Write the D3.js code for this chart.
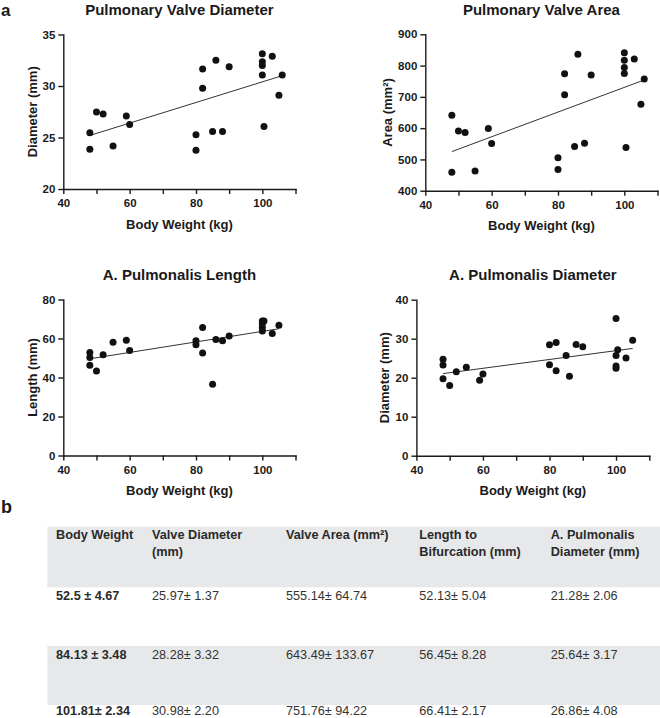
<!DOCTYPE html>
<html>
<head>
<meta charset="utf-8">
<script src="https://cdn.jsdelivr.net/npm/d3@7"></script>
<style>
  html, body { margin: 0; padding: 0; background: #fff; }
  svg { display: block; font-family: "Liberation Sans", Arial, Helvetica, sans-serif; }
</style>
</head>
<body>
<svg id="chart" width="660" height="718"></svg>
<script>
// ---------------- DATA ----------------
const xTicks = [40, 50, 60, 70, 80, 90, 100, 110];
const xTickLabels = [40, 60, 80, 100];
const xAxisTitle = "Body Weight (kg)";

// Panel 1: Pulmonary Valve Diameter
const valveDiamTitle = "Pulmonary Valve Diameter";
const valveDiamYLabel = "Diameter (mm)";
const valveDiamYTicks = [20, 25, 30, 35];
const valveDiamWeight = [48, 48, 50, 52, 55, 59, 60, 80, 80, 82, 82, 85, 86, 88, 90, 100, 100, 100, 100, 100.5, 103, 105, 106];
const valveDiamValues = [25.45, 23.85, 27.47, 27.27, 24.17, 27.08, 26.27, 25.26, 23.77, 31.66, 29.77, 25.58, 32.5, 25.58, 31.88, 33.12, 32.35, 31.98, 31.07, 26.07, 32.88, 29.09, 31.07];
const valveDiamFitX = [48, 106];
const valveDiamFitY = [25.2, 31.0];

// Panel 2: Pulmonary Valve Area
const valveAreaTitle = "Pulmonary Valve Area";
const valveAreaYLabel = "Area (mm²)";
const valveAreaYTicks = [400, 500, 600, 700, 800, 900];
const valveAreaWeight = [48, 48, 50, 52, 55, 59, 60, 80, 80, 82, 82, 85, 86, 88, 90, 100, 100, 100, 100, 100.5, 103, 105, 106];
const valveAreaValues = [641, 459, 591, 586, 463, 599, 551, 505, 468, 774, 707, 541, 836, 552, 770, 841, 817, 794, 775, 538, 821, 676, 757];
const valveAreaFitX = [48, 106];
const valveAreaFitY = [525, 754];

// Panel 3: A. Pulmonalis Length
const apLengthTitle = "A. Pulmonalis Length";
const apLengthYLabel = "Length (mm)";
const apLengthYTicks = [0, 20, 40, 60, 80];
const apLengthWeight = [48, 48, 48, 50, 52, 55, 59, 60, 80, 80, 82, 82, 85, 86, 88, 90, 100, 100, 100, 100, 100.5, 103, 105];
const apLengthValues = [52.8, 50.3, 46.3, 43.3, 51.7, 58.1, 59.1, 53.9, 58.9, 56.8, 65.6, 52.6, 36.5, 59.5, 58.8, 61.3, 69.0, 67.6, 65.7, 63.8, 69.0, 62.6, 66.8];
const apLengthFitX = [48, 105];
const apLengthFitY = [49.6, 65.0];

// Panel 4: A. Pulmonalis Diameter
const apDiamTitle = "A. Pulmonalis Diameter";
const apDiamYLabel = "Diameter (mm)";
const apDiamYTicks = [0, 10, 20, 30, 40];
const apDiamWeight = [48, 48, 48, 50, 52, 55, 59, 60, 80, 80, 82, 82, 85, 86, 88, 90, 100, 100, 100, 100, 100.5, 103, 105];
const apDiamValues = [24.7, 23.25, 19.7, 18.0, 21.55, 22.65, 19.35, 20.95, 28.45, 23.3, 29.0, 21.8, 25.7, 20.35, 28.5, 27.95, 35.2, 25.7, 23.0, 22.4, 27.15, 25.05, 29.6];
const apDiamFitX = [48, 105];
const apDiamFitY = [21.05, 27.5];

// Table (panel b)
const tableHeaders = [["Body Weight"], ["Valve Diameter", "(mm)"], ["Valve Area (mm²)"], ["Length to", "Bifurcation (mm)"], ["A. Pulmonalis", "Diameter (mm)"]];
const bodyWeightGroups = ["52.5 ± 4.67", "84.13 ± 3.48", "101.81± 2.34"];
const valveDiameterStats = ["25.97± 1.37", "28.28± 3.32", "30.98± 2.20"];
const valveAreaStats = ["555.14± 64.74", "643.49± 133.67", "751.76± 94.22"];
const lengthBifStats = ["52.13± 5.04", "56.45± 8.28", "66.41± 2.17"];
const apDiameterStats = ["21.28± 2.06", "25.64± 3.17", "26.86± 4.08"];

// ---------------- LAYOUT ----------------
const svg = d3.select("#chart");
svg.append("rect").attr("width", 660).attr("height", 718).attr("fill", "#fff");

const INK = "#1a1a1a";

const panels = [
  { title: valveDiamTitle, yLabel: valveDiamYLabel, yTicks: valveDiamYTicks, xs: valveDiamWeight, ys: valveDiamValues, fx: valveDiamFitX, fy: valveDiamFitY,
    xr: [63.3, 295.5], yr: [189, 34.5], titleY: 15, yLabelX: 36.5 },
  { title: valveAreaTitle, yLabel: valveAreaYLabel, yTicks: valveAreaYTicks, xs: valveAreaWeight, ys: valveAreaValues, fx: valveAreaFitX, fy: valveAreaFitY,
    xr: [425.3, 657.5], yr: [190.7, 34.3], titleY: 15, yLabelX: 392 },
  { title: apLengthTitle, yLabel: apLengthYLabel, yTicks: apLengthYTicks, xs: apLengthWeight, ys: apLengthValues, fx: apLengthFitX, fy: apLengthFitY,
    xr: [63.3, 295.5], yr: [455.5, 299.5], titleY: 280, yLabelX: 36.5 },
  { title: apDiamTitle, yLabel: apDiamYLabel, yTicks: apDiamYTicks, xs: apDiamWeight, ys: apDiamValues, fx: apDiamFitX, fy: apDiamFitY,
    xr: [416.4, 649.3], yr: [455.7, 299.7], titleY: 280, yLabelX: 389 }
];

panels.forEach(p => {
  const x = d3.scaleLinear().domain([xTicks[0], xTicks[xTicks.length - 1]]).range(p.xr);
  const y = d3.scaleLinear().domain([p.yTicks[0], p.yTicks[p.yTicks.length - 1]]).range(p.yr);
  const g = svg.append("g");

  const xAxis = d3.axisBottom(x).tickValues(xTicks).tickSize(5).tickSizeOuter(0).tickPadding(5)
    .tickFormat(d => xTickLabels.includes(d) ? d : "");
  const yAxis = d3.axisLeft(y).tickValues(p.yTicks).tickSize(5).tickSizeOuter(0).tickPadding(3);

  const gx = g.append("g").attr("transform", `translate(0,${p.yr[0]})`).call(xAxis);
  const gy = g.append("g").attr("transform", `translate(${p.xr[0]},0)`).call(yAxis);
  [gx, gy].forEach(a => {
    a.select(".domain").attr("stroke", INK).attr("stroke-width", 1.4).attr("stroke-linecap", "square");
    a.selectAll(".tick line").attr("stroke", INK).attr("stroke-width", 1.4);
    a.selectAll(".tick text").attr("fill", INK).attr("font-size", 11.5).attr("font-weight", "bold")
      .attr("font-family", "Liberation Sans, Arial, sans-serif");
  });

  // fit line
  g.append("line")
    .attr("x1", x(p.fx[0])).attr("y1", y(p.fy[0]))
    .attr("x2", x(p.fx[1])).attr("y2", y(p.fy[1]))
    .attr("stroke", "#333").attr("stroke-width", 1);

  // dots
  g.selectAll("circle.pt").data(p.xs.map((v, i) => [v, p.ys[i]])).enter()
    .append("circle").attr("class", "pt")
    .attr("cx", d => x(d[0])).attr("cy", d => y(d[1]))
    .attr("r", 3.5).attr("fill", "#111");

  // title
  const cx = (p.xr[0] + p.xr[1]) / 2;
  g.append("text").attr("x", cx).attr("y", p.titleY).attr("text-anchor", "middle")
    .attr("font-size", 15).attr("font-weight", "bold").attr("fill", INK).text(p.title);

  // x label
  g.append("text").attr("x", cx).attr("y", p.yr[0] + 39.5).attr("text-anchor", "middle")
    .attr("font-size", 13).attr("font-weight", "bold").attr("fill", INK).text(xAxisTitle);

  // y label
  const cy = (p.yr[0] + p.yr[1]) / 2;
  g.append("text").attr("transform", `translate(${p.yLabelX},${cy}) rotate(-90)`)
    .attr("text-anchor", "middle").attr("font-size", 13).attr("font-weight", "bold")
    .attr("fill", INK).text(p.yLabel);
});

// panel letters
svg.append("text").attr("x", 1).attr("y", 15.5).attr("font-size", 17).attr("font-weight", "bold").attr("fill", INK).text("a");
svg.append("text").attr("x", 1).attr("y", 513).attr("font-size", 18).attr("font-weight", "bold").attr("fill", INK).text("b");

// ---------------- TABLE ----------------
const colX = [56, 152, 286, 419.3, 550.7];
const bandX0 = 47.3;
const gray = "#e7e8e9";
svg.append("rect").attr("x", bandX0).attr("y", 526.7).attr("width", 660 - bandX0).attr("height", 60.6).attr("fill", gray);
svg.append("rect").attr("x", bandX0).attr("y", 646).attr("width", 660 - bandX0).attr("height", 59).attr("fill", gray);

const headerBase = [539.3, 555.7];
tableHeaders.forEach((lines, i) => {
  lines.forEach((t, j) => {
    svg.append("text").attr("x", colX[i]).attr("y", headerBase[j])
      .attr("font-size", 12.7).attr("font-weight", "bold").attr("fill", "#2a2a2a").text(t);
  });
});

const rowBase = [600, 659.3, 715];
const columns = [bodyWeightGroups, valveDiameterStats, valveAreaStats, lengthBifStats, apDiameterStats];
columns.forEach((col, i) => {
  col.forEach((t, r) => {
    svg.append("text").attr("x", colX[i]).attr("y", rowBase[r])
      .attr("font-size", 12.7).attr("font-weight", i === 0 ? "bold" : "normal")
      .attr("fill", i === 0 ? "#2a2a2a" : "#333").text(t);
  });
});
</script>
</body>
</html>
